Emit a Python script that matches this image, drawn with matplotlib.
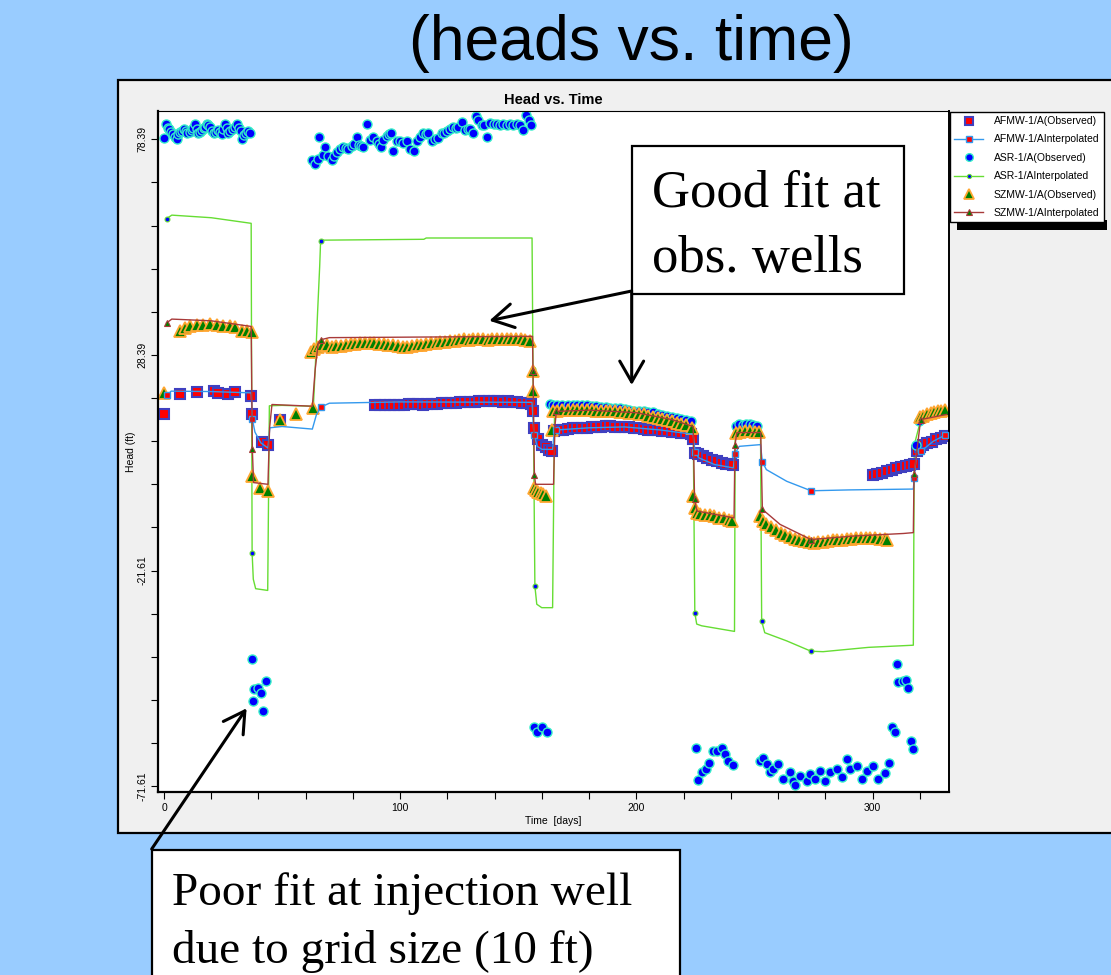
import matplotlib
matplotlib.use("Agg")
import numpy as np
import matplotlib.pyplot as plt
from matplotlib.patches import Rectangle, FancyArrowPatch, ArrowStyle
from matplotlib.ticker import FixedLocator

plt.rcParams['font.family'] = ['Liberation Sans', 'DejaVu Sans']

W, H = 1111, 975


def px(x, y):
    """pixel position (from top-left) -> figure fraction"""
    return x / W, 1 - y / H


# ---------------- data (time in days, head in ft) ----------------
# AFMW-1/A observed
afmw_obs_t = [0.0, 6.8, 14.1, 21.3, 23.0, 27.2, 30.1, 37.0, 37.3, 41.3, 44.2, 49.1,
              89.5, 91.5, 93.5, 95.5, 97.5, 99.5, 101.5, 103.5, 105.5, 107.5, 109.5,
              111.5, 113.5, 115.5, 117.5, 119.5, 121.5, 123.5, 125.5, 127.5, 129.5,
              131.5, 133.5, 135.5, 137.5, 139.5, 141.5, 143.5, 145.5, 147.5, 149.5,
              151.5, 153.5, 155.5,
              156.3, 156.7, 158.5, 159.9, 161.5, 163.0, 164.3,
              165.0, 167, 169, 171, 173, 175, 177, 179, 181, 183, 185, 187, 189, 191,
              193, 195, 197, 199, 201, 203, 205, 207, 209, 211, 213, 215, 217, 219,
              221, 223, 224.0,
              224.8, 226, 228, 230, 232, 234, 236, 238, 240, 241,
              300.3, 302, 304, 306, 308, 310, 312, 314, 316, 317.5, 318.6, 320,
              321.5, 323, 325, 327, 329, 330.7]
afmw_obs_h = [14.8, 19.4, 19.7, 20.0, 19.6, 19.4, 19.7, 18.8, 14.8, 8.2, 7.6, 13.3,
              16.9, 16.9, 16.8, 16.9, 16.9, 16.8, 16.9, 17.0, 17.0, 17.0, 16.9,
              17.0, 17.1, 17.1, 17.2, 17.2, 17.3, 17.3, 17.4, 17.4, 17.5,
              17.5, 17.6, 17.7, 17.7, 17.6, 17.6, 17.5, 17.6, 17.5, 17.4,
              17.3, 17.2, 17.0,
              15.3, 11.5, 8.8, 7.6, 7.0, 6.3, 6.1,
              10.7, 10.9, 11.1, 11.25, 11.35, 11.4, 11.5, 11.5, 11.6, 11.7, 11.8, 11.85,
              11.85, 11.8, 11.7, 11.7, 11.6, 11.5, 11.4, 11.3, 11.1, 11.0, 10.9, 10.8,
              10.7, 10.6, 10.5, 10.4, 10.3, 10.1, 9.0,
              5.7, 5.4, 5.0, 4.5, 4.1, 3.7, 3.4, 3.2, 3.0, 2.9,
              0.5, 0.8, 1.1, 1.45, 1.8, 2.1, 2.5, 2.7, 2.9, 3.2, 6.1, 7.0,
              7.4, 7.9, 8.3, 8.8, 9.2, 9.5]

# AFMW-1/A interpolated (model)
afmw_sim_t = [1.4, 3.0, 20.0, 36.9, 37.4, 38.5, 41.0, 44.0, 44.8, 50.0, 62.8, 64.5,
              66.4, 70.0, 100.0, 155.8, 156.6, 158.0, 160.0, 164.5, 165.2, 166.1,
              180.0, 195.0, 210.0, 224.0, 224.8, 226.5, 233.0, 241.0, 241.7, 243.5,
              252.5, 253.3, 255.0, 263.6, 273.9, 290.0, 317.2, 317.6, 318.6, 320.5,
              325.7, 330.6]
afmw_sim_h = [19.0, 20.0, 19.9, 19.6, 13.5, 10.5, 8.0, 6.8, 11.5, 11.8, 11.2, 14.5,
              16.3, 17.2, 17.5, 17.4, 9.9, 7.2, 6.5, 6.5, 10.5, 11.0,
              11.5, 11.7, 11.0, 10.0, 5.9, 4.5, 3.0, 2.2, 5.5, 7.2,
              7.6, 3.6, 1.8, -0.9, -3.1, -2.9, -2.7, -0.1, 6.1, 6.1,
              8.4, 9.8]
afmw_sim_marks = [0, 4, 12, 16, 21, 26, 30, 33, 36, 39, 41, 43]

# ASR-1/A observed
asr_obs_t = [0.0, 0.7, 1.5, 2.3, 3.0, 3.7, 4.5, 5.4, 6.1, 6.8, 7.6, 8.5, 9.2, 9.9,
             10.8, 11.7, 12.4, 13.1, 13.8, 14.5, 15.2, 16.0, 16.8, 17.4, 18.1, 18.8,
             19.5, 20.3, 21.2, 22.1, 23.0, 23.7, 24.4, 25.1, 25.8, 26.5, 27.2, 28.1,
             29.1, 30.0, 30.8, 31.7, 32.5, 33.2, 34.0, 34.7, 35.5, 36.4,
             37.3, 37.8, 38.1, 39.9, 40.9, 41.8, 43.2,
             62.5, 63.9, 65.0, 65.8, 67.5, 68.2, 69.6, 71.0, 72.0, 73.1, 74.5, 75.9,
             77.0, 78.0, 79.4, 80.5, 81.6, 82.7, 83.5, 84.4, 85.8, 87.2, 88.6, 90.0,
             91.0, 91.7, 92.9, 94.3, 95.2, 96.1, 97.1, 98.5, 99.9, 101.3, 102.8,
             104.2, 105.9, 107.0, 108.4, 109.8, 110.8, 111.9, 113.3, 114.7, 116.1,
             117.6, 118.6, 119.7, 121.1, 122.5, 123.5, 124.6, 126.0, 127.4, 128.5,
             129.6, 131.0, 132.1, 133.1, 134.5, 135.5, 136.6, 138.0, 139.5, 140.9,
             142.3, 143.7, 145.1, 146.5, 147.9, 149.3, 150.6, 151.9, 153.3, 154.3,
             155.3,
             156.6, 157.8, 159.9, 162.0,
             163.4, 164.8, 166.5, 168.5, 171, 173, 175, 177, 179, 181, 183, 185, 187,
             189, 191, 193, 195, 197, 199, 201, 203, 205, 207, 209, 211, 213, 215,
             217, 219, 221, 223,
             225.2, 226.2, 227.6, 229.5, 230.9, 232.3, 234.0, 236.1, 237.5, 238.9,
             241.0,
             242.2, 243.5, 245.0, 246.5, 248.0, 249.5, 251.0,
             252.3, 253.4, 255.1, 256.5, 258.0, 260.1, 262.2, 265.0, 266.4, 267.1,
             269.3, 272.1, 273.5, 275.6, 277.7, 279.8, 282.0, 284.8, 286.9, 289.0,
             290.4, 293.3, 295.4, 297.5, 300.3, 302.4, 305.2, 307.1,
             308.0, 309.4, 310.1, 310.9, 313.0, 314.0, 315.1, 316.1, 317.2,
             318.4, 319.4]
asr_obs_h = [78.6, 81.9, 81.0, 80.7, 80.0, 79.5, 79.0, 78.4, 79.5, 80.0, 80.4, 80.7,
             80.2, 79.8, 80.1, 80.5, 81.0, 82.0, 80.8, 79.8, 80.1, 80.5, 80.9, 81.3,
             82.0, 81.6, 81.2, 80.4, 79.8, 80.1, 80.5, 80.0, 79.6, 80.8, 82.0, 80.9,
             79.8, 80.2, 80.8, 81.3, 82.0, 81.1, 80.3, 78.4, 79.3, 79.8, 80.3, 79.8,
             -42.0, -51.9, -49.1, -48.9, -50.0, -54.1, -47.2,
             73.6, 72.7, 73.9, 78.85, 74.7, 76.7, 74.4, 73.6, 74.5, 75.5, 76.2, 76.7,
             76.4, 76.2, 76.8, 77.4, 79.0, 77.1, 76.9, 76.7, 81.9, 78.2, 78.85, 77.9,
             77.2, 76.7, 78.2, 79.2, 79.5, 79.8, 75.7, 77.9, 77.9, 77.5, 77.9,
             76.2, 75.7, 77.9, 79.0, 79.8, 79.5, 79.8, 77.9, 78.4, 78.6,
             79.8, 79.9, 80.2, 80.8, 81.3, 81.0, 81.3, 82.5, 80.5, 80.7,
             80.8, 79.8, 83.8, 82.9, 81.7, 81.6, 78.85, 82.1, 81.9, 81.9,
             81.8, 81.9, 81.8, 81.9, 81.8, 81.9, 81.8, 80.5, 84.0, 82.9,
             81.7,
             -57.9, -59.1, -57.9, -59.1,
             17.0, 16.7, 16.8, 16.8, 16.8, 16.8, 16.7, 16.7, 16.7, 16.6, 16.5, 16.4,
             16.3, 16.2, 16.1, 16.1, 15.9, 15.7, 15.5, 15.4, 15.3, 15.2, 15.1, 14.8,
             14.5, 14.2, 14.0, 13.8, 13.6, 13.3, 13.0,
             -62.7, -70.1, -68.4, -67.6, -66.1, -63.4, -63.4, -62.8, -64.1, -65.7,
             -66.6,
             11.9, 12.3, 12.2, 12.4, 12.3, 12.2, 12.0,
             -65.7, -65.1, -66.4, -68.2, -67.6, -66.4, -69.9, -68.2, -70.3, -71.3,
             -69.2, -70.3, -68.8, -69.9, -68.0, -70.3, -68.4, -67.6, -69.5, -65.3,
             -67.6, -66.8, -69.9, -68.0, -66.8, -69.9, -68.5, -66.3,
             -57.8, -59.0, -43.3, -47.5, -47.2, -47.0, -48.9, -61.1, -63.0,
             7.6, 13.0]

# ASR-1/A interpolated (model)
asr_sim_t = [1.1, 3.3, 20.0, 36.9, 37.3, 37.8, 38.8, 43.9, 44.6, 50.0, 62.8, 63.3,
             64.0, 65.0, 65.9, 66.3, 67.5, 110.0, 111.0, 155.8, 156.2, 157.0, 157.8,
             159.9, 164.5, 165.3, 166.1, 180.0, 200.0, 215.0, 224.0, 224.7, 225.5,
             227.6, 241.5, 241.8, 245.0, 252.5, 253.0, 254.3, 263.6, 273.9, 279.0,
             298.2, 317.2, 317.6, 320.4, 330.6]
asr_sim_h = [60.0, 60.8, 60.2, 58.9, -17.5, -23.6, -25.8, -26.2, 16.6, 16.7, 16.5, 17.3,
             25.0, 38.1, 48.9, 54.85, 55.0, 55.2, 55.5, 55.5, 25.1, -25.2, -29.4,
             -30.2, -30.2, 14.2, 15.8, 16.2, 15.6, 14.3, 13.0, -31.4, -34.0,
             -34.4, -35.7, 11.5, 12.0, 11.8, -33.3, -36.0, -37.9, -40.3, -40.4,
             -39.4, -38.9, 7.5, 13.5, 15.0]
asr_sim_marks = [0, 4, 15, 20, 21, 26, 31, 35, 38, 41, 45, 46]

# SZMW-1/A observed
szmw_obs_t = [0.0, 6.8, 8.9, 11.0, 13.8, 16.7, 19.5, 22.3, 25.1, 27.9, 30.0, 32.9, 35.0,
              37.1, 37.2, 40.8, 44.2, 49.1, 55.9, 63.2,
              62.4, 63.7, 65, 67, 69, 71, 73, 75, 77, 79, 81, 83, 85, 87, 89, 91, 93,
              95, 97, 99, 101, 103, 105, 107, 109, 111, 113, 115, 117, 119, 121, 123,
              125, 127, 129, 131, 133, 135, 137, 139, 141, 143, 145, 147, 149, 151,
              153, 155,
              156.3, 156.4, 156.7, 157.5, 158.5, 159.5, 160.5, 161.9, 164.1,
              164.8, 166.5, 168.5, 171, 173, 175, 177, 179, 181, 183, 185, 187, 189,
              191, 193, 195, 197, 199, 201, 203, 205, 207, 209, 211, 213, 215, 217,
              219, 221, 223.7,
              224.1, 224.8, 225.5, 227, 229, 231, 233, 235, 237, 239, 240.5,
              242, 244, 246, 248, 250, 252,
              252.5, 253.5, 255, 257, 259, 261, 263, 265, 267, 269, 271, 273, 275,
              277, 279, 281, 283, 285, 287, 289, 291, 293, 295, 297, 299, 301, 303,
              305, 306,
              320.2, 321.5, 323, 324.5, 326, 327.5, 329, 330.5]
szmw_obs_h = [19.6, 33.85, 34.6, 35.0, 35.25, 35.4, 35.56, 35.4, 35.17, 35.0, 34.9, 33.85, 33.9,
              33.7, 0.3, -2.4, -3.2, 13.4, 14.6, 16.1,
              29.0, 29.8, 30.3, 30.7, 30.6, 30.3, 30.4, 30.5, 30.7, 30.9, 31.0, 31.1,
              31.2, 31.2, 31.1, 31.0, 30.9, 30.8, 30.6, 30.4, 30.3, 30.3, 30.4, 30.6,
              30.8, 31.0, 31.1, 31.2, 31.3, 31.4, 31.6, 31.7, 31.9, 32.0, 31.9, 32.0,
              32.1, 32.0, 31.9, 32.0, 32.1, 32.2, 32.1, 32.0, 32.1, 32.0, 31.8, 31.6,
              24.6, 20.0, -2.4, -3.0, -3.4, -3.6, -3.9, -4.2, 11.1,
              15.3, 15.5, 15.6, 15.7, 15.7, 15.7, 15.7, 15.6, 15.6, 15.5, 15.5,
              15.4, 15.3, 15.3, 15.2, 15.1, 15.0, 15.0, 14.8, 14.6, 14.3, 14.0, 13.8,
              13.5, 13.3, 13.0, 12.7, 12.4, 12.1, 11.5,
              -4.3, -7.0, -8.2, -8.4, -8.6, -8.8, -9.0, -9.3, -9.5, -9.8, -10.1,
              10.4, 10.6, 10.7, 10.7, 10.6, 10.5,
              -9.0, -10.0, -10.9, -11.6, -12.2, -12.8, -13.3, -13.8, -14.2, -14.5,
              -14.8, -15.0, -15.1, -15.0, -14.9, -14.8, -14.6, -14.5, -14.4, -14.3,
              -14.2, -14.1, -14.0, -14.0, -14.0, -14.1, -14.2, -14.3, -14.4,
              14.0, 14.3, 14.6, 14.9, 15.1, 15.3, 15.5, 15.6]

# SZMW-1/A interpolated (model)
szmw_sim_t = [1.1, 3.3, 20.0, 36.9, 37.4, 37.9, 44.0, 44.7, 45.7, 62.8, 64.0, 65.3,
              66.3, 70.0, 156.0, 156.2, 156.8, 157.3, 164.9, 165.5, 166.1, 180.0,
              200.0, 215.0, 224.0, 224.6, 225.6, 241.3, 241.7, 242.5, 252.6, 253.3,
              260.8, 273.9, 291.8, 313.0, 317.2, 317.5, 320.3, 331.3]
szmw_sim_h = [35.8, 36.7, 36.3, 35.0, 6.5, -1.2, -1.6, 11.5, 16.9, 16.5, 25.0, 31.2,
              31.9, 32.4, 32.7, 24.6, 0.45, -1.6, -1.6, 12.0, 15.3, 15.6,
              15.0, 13.4, 11.8, -5.1, -7.8, -9.4, 7.5, 10.4, 10.4, -7.4,
              -10.9, -14.4, -13.6, -13.0, -12.8, 0.7, 13.4, 14.6]
szmw_sim_marks = [0, 4, 12, 15, 16, 20, 25, 28, 31, 33, 37, 38]

series_labels = ['AFMW-1/A(Observed)', 'AFMW-1/AInterpolated',
                 'ASR-1/A(Observed)', 'ASR-1/AInterpolated',
                 'SZMW-1/A(Observed)', 'SZMW-1/AInterpolated']

y_tick_vals = [78.39, 28.39, -21.61, -71.61]
y_tick_labels = ['78.39', '28.39', '-21.61', '-71.61']
x_tick_vals = [0, 100, 200, 300]

# ---------------- figure ----------------
fig = plt.figure(figsize=(W / 100, H / 100), dpi=100)
fig.patch.set_facecolor('#99CCFF')

fig.text(*px(631.5, 60), '(heads vs. time)', ha='center', va='baseline',
         fontsize=45, color='black')

# grey chart panel
x0, y0 = px(118, 833)
fig.add_artist(Rectangle((x0, y0), (1125 - 118) / W, (833 - 80) / H,
                         transform=fig.transFigure, facecolor='#F0F0F0',
                         edgecolor='black', lw=1.6, zorder=0))

ax = fig.add_axes([158 / W, 1 - 792 / H, (949 - 158) / W, (792 - 111) / H])
ax.set_facecolor('white')
ax.set_xlim(-2.54, 332.3)
ax.set_ylim(-72.93, 84.94)

h_afmw_obs, = ax.plot(afmw_obs_t, afmw_obs_h, ls='none', marker='s', ms=7.5,
                      mfc='#FF0000', mec='#4040C0', mew=1.5, zorder=2)
h_asr_obs, = ax.plot(asr_obs_t, asr_obs_h, ls='none', marker='o', ms=6.5,
                     mfc='#0000FF', mec='#33EEC8', mew=1.0, zorder=2.1)
h_szmw_obs, = ax.plot(szmw_obs_t, szmw_obs_h, ls='none', marker='^', ms=8.5,
                      mfc='#008000', mec='#FFA630', mew=1.3, zorder=2.2)
h_asr_sim, = ax.plot(asr_sim_t, asr_sim_h, color='#66DD33', lw=1.0, marker='o',
                     ms=3.5, mfc='#0000FF', mec='#66DD33', mew=0.8,
                     markevery=asr_sim_marks, zorder=1.9)
h_afmw_sim, = ax.plot(afmw_sim_t, afmw_sim_h, color='#3399EE', lw=1.0, marker='s',
                      ms=5, mfc='#FF0000', mec='#3399EE', mew=1.0,
                      markevery=afmw_sim_marks, zorder=3)
h_szmw_sim, = ax.plot(szmw_sim_t, szmw_sim_h, color='#A83A3A', lw=1.0, marker='^',
                      ms=5, mfc='#008000', mec='#A83A3A', mew=0.8,
                      markevery=szmw_sim_marks, zorder=3.2)

ax.set_xticks(x_tick_vals)
ax.set_xticklabels([str(v) for v in x_tick_vals])
ax.xaxis.set_minor_locator(FixedLocator(np.arange(0, 332, 20)))
ax.set_yticks(y_tick_vals)
ax.set_yticklabels(y_tick_labels, rotation=90, va='center')
ax.yaxis.set_minor_locator(FixedLocator(np.arange(-71.61, 84, 10)))
ax.tick_params(which='both', direction='out', length=5, width=0.8,
               labelsize=7.5, pad=3)
ax.tick_params(axis='y', pad=2.5)
for side, lw in [('left', 1.6), ('bottom', 1.6), ('right', 1.4), ('top', 0.8)]:
    ax.spines[side].set_linewidth(lw)
    ax.spines[side].set_color('black')

ax.set_xlabel('Time  [days]', fontsize=7.5, labelpad=2)
ax.set_ylabel('Head (ft)', fontsize=7.5, labelpad=1)
fig.text(*px(553.5, 100), 'Head vs. Time', ha='center', va='center',
         fontsize=10.5, fontweight='bold')

# legend with its black drop shadow
sx, sy = px(957, 230)
fig.add_artist(Rectangle((sx, sy), (1107 - 957) / W, 10 / H,
                         transform=fig.transFigure, facecolor='black',
                         edgecolor='none', zorder=4))
leg = fig.legend([h_afmw_obs, h_afmw_sim, h_asr_obs, h_asr_sim, h_szmw_obs, h_szmw_sim],
                 series_labels, loc='upper left', bbox_to_anchor=px(950, 112),
                 bbox_transform=fig.transFigure, fontsize=7.5, frameon=True,
                 fancybox=False, edgecolor='black', framealpha=1, borderaxespad=0,
                 borderpad=0.4, handlelength=2.8, handletextpad=1.0,
                 labelspacing=0.8, markerscale=0.85)
leg.get_frame().set_linewidth(1.0)
leg.set_zorder(5)

# call-out boxes and arrows
bx, by = px(631.7, 294.3)
fig.add_artist(Rectangle((bx, by), (904 - 631.7) / W, (294.3 - 145.7) / H,
                         transform=fig.transFigure, facecolor='white',
                         edgecolor='black', lw=1.6, zorder=6))
fig.text(*px(651.7, 206.7), 'Good fit at', fontsize=38, family='Liberation Serif',
         va='baseline', zorder=7)
fig.text(*px(651.7, 271.7), 'obs. wells', fontsize=38, family='Liberation Serif',
         va='baseline', zorder=7)

bx, by = px(151.7, 1000)
fig.add_artist(Rectangle((bx, by), (679.8 - 151.7) / W, (1000 - 850) / H,
                         transform=fig.transFigure, facecolor='white',
                         edgecolor='black', lw=1.6, zorder=6))
fig.text(*px(172, 905), 'Poor fit at injection well', fontsize=34,
         family='Liberation Serif', va='baseline', zorder=7)
fig.text(*px(172, 963), 'due to grid size (10 ft)', fontsize=34,
         family='Liberation Serif', va='baseline', zorder=7)

head = ArrowStyle('->', head_length=0.75, head_width=0.43)
for a, b in [((631.7, 291), (489.3, 320.7)),
             ((631.7, 293), (631.7, 385)),
             ((151.7, 849), (246.6, 708.3))]:
    fig.add_artist(FancyArrowPatch(px(*a), px(*b), transform=fig.transFigure,
                                   arrowstyle=head, mutation_scale=20, lw=2.2,
                                   color='black', shrinkA=0, shrinkB=0, zorder=8))

fig.savefig('out.png', dpi=100, facecolor=fig.get_facecolor())
